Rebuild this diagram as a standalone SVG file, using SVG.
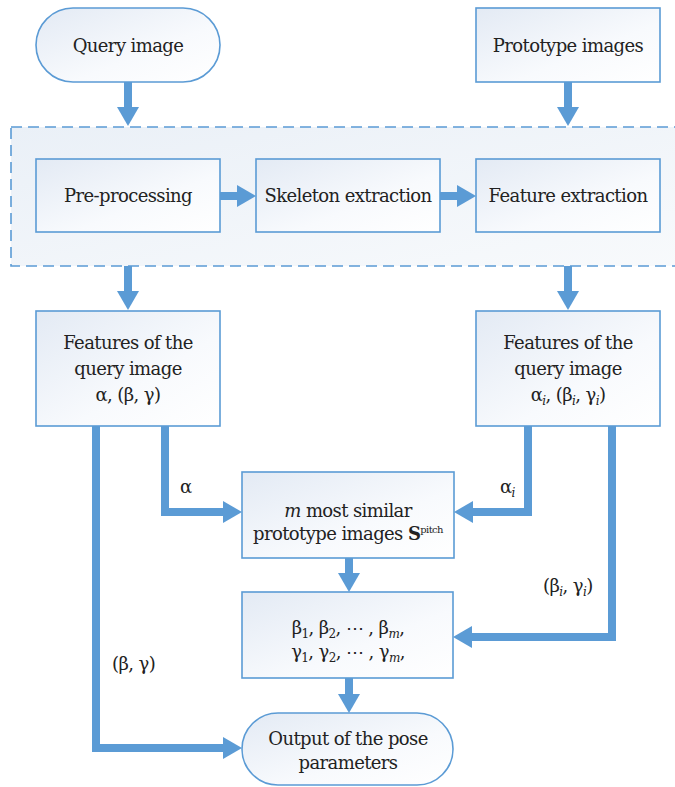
<svg xmlns="http://www.w3.org/2000/svg" width="675" height="787" viewBox="0 0 675 787" font-family="DejaVu Serif, Noto Serif, serif" font-size="18">
<defs>
<linearGradient id="g" x1="0" y1="0" x2="1" y2="1">
<stop offset="0" stop-color="#e3eaf4"/>
<stop offset="0.6" stop-color="#f8fafd"/>
<stop offset="1" stop-color="#ffffff"/>
</linearGradient>
<linearGradient id="gd" x1="0" y1="0" x2="1" y2="1">
<stop offset="0" stop-color="#eaf0f7"/>
<stop offset="1" stop-color="#f8fafc"/>
</linearGradient>
<marker id="ah" markerUnits="userSpaceOnUse" markerWidth="19" markerHeight="22" viewBox="0 0 19 22" refX="1" refY="11" orient="auto">
<path d="M0,0 L19,11 L0,22 z" fill="#5b9bd5"/>
</marker>
</defs>
<style>
.box{fill:url(#g);stroke:#5b9bd5;stroke-width:1.6}
text{fill:#222;letter-spacing:-0.6px}
.t{text-anchor:middle}
.c{fill:none;stroke:#5b9bd5;stroke-width:8;marker-end:url(#ah)}
.sub{font-size:12px;font-style:italic}
.sn{font-size:12px}
</style>
<rect width="675" height="787" fill="#ffffff"/>
<g id="stage">
<rect x="11" y="127" width="700" height="139" fill="url(#gd)" stroke="#5b9bd5" stroke-width="1.6" stroke-dasharray="11,6"/>
</g>
<g id="query">
<rect class="box" x="36" y="8" width="184" height="74" rx="37"/>
<text class="t" x="128" y="52">Query image</text>
</g>
<g id="prototype">
<rect class="box" x="476" y="8" width="184" height="74"/>
<text class="t" x="568" y="52">Prototype images</text>
</g>
<g id="preproc">
<rect class="box" x="36" y="159" width="184" height="73"/>
<text class="t" x="128" y="202">Pre-processing</text>
</g>
<g id="skeleton">
<rect class="box" x="256" y="159" width="184" height="73"/>
<text class="t" x="348" y="202">Skeleton extraction</text>
</g>
<g id="feature">
<rect class="box" x="476" y="159" width="184" height="73"/>
<text class="t" x="568" y="202">Feature extraction</text>
</g>
<g id="featq">
<rect class="box" x="36" y="311" width="184" height="115"/>
<text class="t" x="128" y="349">Features of the</text>
<text class="t" x="128" y="375">query image</text>
<text class="t" x="128" y="401">α, (β, γ)</text>
</g>
<g id="featp">
<rect class="box" x="476" y="311" width="184" height="115"/>
<text class="t" x="568" y="349">Features of the</text>
<text class="t" x="568" y="375">query image</text>
<text class="t" x="568" y="401">α<tspan class="sub" dy="4">i</tspan><tspan dy="-4">, (β</tspan><tspan class="sub" dy="4">i</tspan><tspan dy="-4">, γ</tspan><tspan class="sub" dy="4">i</tspan><tspan dy="-4">)</tspan></text>
</g>
<g id="similar">
<rect class="box" x="242" y="472" width="212" height="86"/>
<text class="t" x="348" y="517"><tspan font-style="italic">m</tspan> most similar</text>
<text class="t" x="348" y="540">prototype images <tspan font-weight="bold">S</tspan><tspan font-size="10" dy="-7">pitch</tspan></text>
</g>
<g id="betas">
<rect class="box" x="242" y="592" width="211" height="86"/>
<text class="t" x="348" y="634">β<tspan class="sn" dy="4">1</tspan><tspan dy="-4">, β</tspan><tspan class="sn" dy="4">2</tspan><tspan dy="-4">, ⋯ , β</tspan><tspan class="sub" dy="4">m</tspan><tspan dy="-4">,</tspan></text>
<text class="t" x="348" y="658">γ<tspan class="sn" dy="4">1</tspan><tspan dy="-4">, γ</tspan><tspan class="sn" dy="4">2</tspan><tspan dy="-4">, ⋯ , γ</tspan><tspan class="sub" dy="4">m</tspan><tspan dy="-4">,</tspan></text>
</g>
<g id="output">
<rect class="box" x="242" y="713" width="211" height="72" rx="36"/>
<text class="t" x="348" y="745">Output of the pose</text>
<text class="t" x="348" y="769">parameters</text>
</g>
<g id="connectors">
<path class="c" d="M128,82 V108"/>
<path class="c" d="M568,82 V108"/>
<path class="c" d="M220,196 H238"/>
<path class="c" d="M440,196 H458"/>
<path class="c" d="M128,266 V292"/>
<path class="c" d="M568,266 V292"/>
<path class="c" d="M165,426 V512 H224"/>
<path class="c" d="M528,426 V512 H472"/>
<path class="c" d="M96,426 V748 H224"/>
<path class="c" d="M612,426 V637 H471"/>
<path class="c" d="M349,558 V574"/>
<path class="c" d="M349,678 V695"/>
<text x="180" y="493">α</text>
<text x="500" y="493">α<tspan class="sub" dy="4">i</tspan></text>
<text x="112" y="670">(β, γ)</text>
<text x="543" y="592">(β<tspan class="sub" dy="4">i</tspan><tspan dy="-4">, γ</tspan><tspan class="sub" dy="4">i</tspan><tspan dy="-4">)</tspan></text>
</g>
</svg>
